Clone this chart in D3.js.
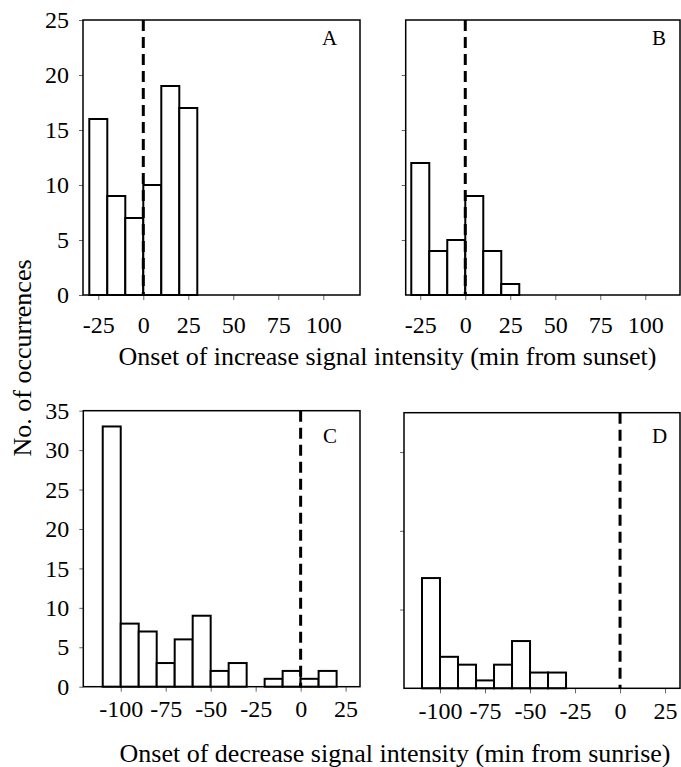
<!DOCTYPE html>
<html>
<head>
<meta charset="utf-8">
<script src="https://cdn.jsdelivr.net/npm/d3@7"></script>
<style>
  body { margin: 0; background: #fff; }
  svg { display: block; font-family: "Liberation Serif", "Times New Roman", serif; }
</style>
</head>
<body>
<div id="chart"></div>
<script>
// bin edges (min) and counts
const binsIncrease = [-30, -20, -10, 0, 10, 20, 30];
const countsA = [16, 9, 7, 10, 19, 17];
const countsB = [12, 4, 5, 9, 4, 1];

const binsDecrease = [-110, -100, -90, -80, -70, -60, -50, -40, -30, -20, -10, 0, 10, 20];
const countsC = [33, 8, 7, 3, 6, 9, 2, 3, 0, 1, 2, 1, 2];
const countsD = [14, 4, 3, 1, 3, 6, 2, 2];

const xTicksTop = [-25, 0, 25, 50, 75, 100];
const xTicksBottom = [-100, -75, -50, -25, 0, 25];
const yTicksA = [0, 5, 10, 15, 20, 25];
const yTicksB = [5, 10, 15, 20];
const yTicksC = [0, 5, 10, 15, 20, 25, 30, 35];
const yTicksD = [10, 20, 30];

const width = 681;
const height = 767;

const svg = d3.select('#chart')
  .append('svg')
  .attr('width', width)
  .attr('height', height);

const panels = [
  { label: 'A', bins: binsIncrease, counts: countsA, left: 83, right: 360, top: 20, bottom: 295,
    xDomain: [-33.5, 120.4], yMax: 25, xTicks: xTicksTop, yTicks: yTicksA, yLabels: true, pad: 16,
    labelX: 322, labelY: 45 },
  { label: 'B', bins: binsIncrease, counts: countsB, left: 405.7, right: 680, top: 20, bottom: 295,
    xDomain: [-33.1, 119.3], yMax: 25, xTicks: xTicksTop, yTicks: yTicksB, yLabels: false, pad: 16,
    labelX: 652, labelY: 45 },
  { label: 'C', bins: binsDecrease, counts: countsC, left: 83.3, right: 360, top: 410.7, bottom: 686.7,
    xDomain: [-120.8, 33], yMax: 35, xTicks: xTicksBottom, yTicks: yTicksC, yLabels: true, pad: 8,
    labelX: 323, labelY: 443 },
  { label: 'D', bins: binsDecrease, counts: countsD, left: 404, right: 680, top: 412.7, bottom: 688.3,
    xDomain: [-120, 33.3], yMax: 35, xTicks: xTicksBottom, yTicks: yTicksD, yLabels: false, pad: 9,
    labelX: 652, labelY: 443 }
];

// plain hyphen for negatives, like the original figure
const fmt = d => String(d);

panels.forEach(p => {
  const x = d3.scaleLinear().domain(p.xDomain).range([p.left, p.right]);
  const y = d3.scaleLinear().domain([0, p.yMax]).range([p.bottom, p.top]);
  const g = svg.append('g');

  // x axis ticks + labels
  const xAxis = g.append('g')
    .attr('transform', `translate(0,${p.bottom})`)
    .call(d3.axisBottom(x).tickValues(p.xTicks).tickSize(5).tickPadding(p.pad).tickSizeOuter(0)
      .tickFormat(fmt));
  xAxis.select('.domain').remove();
  xAxis.selectAll('line').attr('stroke', '#666').attr('stroke-width', 1);
  xAxis.selectAll('text').attr('font-size', 24).attr('fill', '#000')
    .style('font-family', '"Liberation Serif", serif');

  // y axis
  const yAxis = g.append('g')
    .attr('transform', `translate(${p.left},0)`)
    .call(d3.axisLeft(y).tickValues(p.yTicks).tickSize(4).tickPadding(10).tickSizeOuter(0)
      .tickFormat(p.yLabels ? fmt : () => ''));
  yAxis.select('.domain').remove();
  yAxis.selectAll('line').attr('stroke', '#666').attr('stroke-width', 1);
  yAxis.selectAll('text').attr('font-size', 24).attr('fill', '#000')
    .style('font-family', '"Liberation Serif", serif');

  // bars
  const data = p.counts.map((c, i) => ({ x0: p.bins[i], x1: p.bins[i + 1], n: c }))
    .filter(d => d.n > 0);
  g.selectAll('rect.bar')
    .data(data)
    .enter().append('rect')
    .attr('class', 'bar')
    .attr('x', d => x(d.x0))
    .attr('y', d => y(d.n))
    .attr('width', d => x(d.x1) - x(d.x0))
    .attr('height', d => y(0) - y(d.n))
    .attr('fill', '#fff')
    .attr('stroke', '#000')
    .attr('stroke-width', 2);

  // frame
  g.append('rect')
    .attr('x', p.left)
    .attr('y', p.top)
    .attr('width', p.right - p.left)
    .attr('height', p.bottom - p.top)
    .attr('fill', 'none')
    .attr('stroke', '#000')
    .attr('stroke-width', 1.5);

  // dashed reference line at 0
  g.append('line')
    .attr('x1', x(0)).attr('x2', x(0))
    .attr('y1', p.top).attr('y2', p.bottom)
    .attr('stroke', '#000')
    .attr('stroke-width', 3)
    .attr('stroke-dasharray', '11,6');

  g.append('text')
    .attr('x', p.labelX)
    .attr('y', p.labelY)
    .attr('font-size', 21)
    .text(p.label);
});

svg.append('text')
  .attr('x', 387.5)
  .attr('y', 365)
  .attr('text-anchor', 'middle')
  .attr('font-size', 26)
  .text('Onset of increase signal intensity (min from sunset)');

svg.append('text')
  .attr('x', 395)
  .attr('y', 762)
  .attr('text-anchor', 'middle')
  .attr('font-size', 26)
  .text('Onset of decrease signal intensity (min from sunrise)');

svg.append('text')
  .attr('transform', 'translate(31,358) rotate(-90)')
  .attr('text-anchor', 'middle')
  .attr('font-size', 26)
  .text('No. of occurrences');
</script>
</body>
</html>
